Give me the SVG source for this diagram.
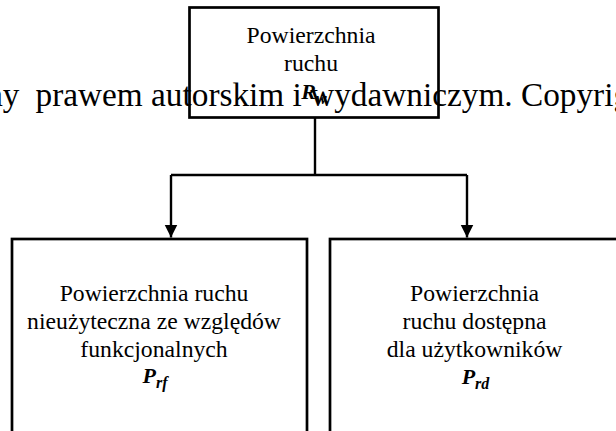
<svg xmlns="http://www.w3.org/2000/svg" width="616" height="431" viewBox="0 0 616 431">
  <style>
    .box { fill: none; stroke: #000; stroke-width: 2.7; }
    .link { fill: none; stroke: #000; stroke-width: 2.4; }
    .lbl { font-size: 23.7px; fill: #000; text-anchor: middle; }
    .sym { font-weight: bold; font-style: italic; font-size: 22px; }
    .sub { font-weight: bold; font-style: italic; font-size: 16px; }
    .mark { font-size: 33.3px; fill: #000; }
  </style>
  <defs>
    <marker id="arrow" markerUnits="userSpaceOnUse" markerWidth="13" markerHeight="18" refX="13" refY="6.5" orient="auto">
      <path d="M0,0 L13,6.5 L0,13 Z" fill="#000"/>
    </marker>
  </defs>

  <rect width="616" height="431" fill="#fff"/>

  <g font-family="Liberation Serif, DejaVu Serif, serif">
    <!-- copyright notice running across the page -->
    <g id="copyright">
      <text class="mark" x="19.5" y="105.5" text-anchor="end">ny</text>
      <text class="mark" x="35.5" y="105.5">prawem autorskim i wydawniczym. Copyright</text>
    </g>

    <g id="connectors">
      <polyline class="link" points="315,117 315,175"/>
      <polyline class="link" points="171,175 467,175"/>
      <line class="link" x1="171" y1="175" x2="171" y2="237.5" marker-end="url(#arrow)"/>
      <line class="link" x1="467" y1="175" x2="467" y2="237.5" marker-end="url(#arrow)"/>
    </g>

    <g id="node-total">
      <rect class="box" x="189.5" y="7.5" width="249" height="110"/>
      <text class="lbl">
        <tspan x="314" y="43">Powierzchnia</tspan>
        <tspan x="314" y="71">ruchu</tspan>
        <tspan x="314" y="99" class="sym">R<tspan class="sub" dy="5">w</tspan></tspan>
      </text>
    </g>

    <g id="node-functional">
      <rect class="box" x="12" y="239" width="295" height="210"/>
      <text class="lbl">
        <tspan x="157" y="301">Powierzchnia ruchu</tspan>
        <tspan x="157" y="329">nieużyteczna ze względów</tspan>
        <tspan x="157" y="357">funkcjonalnych</tspan>
        <tspan x="155" y="383" class="sym">P<tspan class="sub" dy="5">rf</tspan></tspan>
      </text>
    </g>

    <g id="node-available">
      <rect class="box" x="330" y="239" width="300" height="210"/>
      <text class="lbl">
        <tspan x="477.5" y="301">Powierzchnia</tspan>
        <tspan x="477.5" y="329">ruchu dostępna</tspan>
        <tspan x="477.5" y="357">dla użytkowników</tspan>
        <tspan x="475.5" y="384" class="sym">P<tspan class="sub" dy="5">rd</tspan></tspan>
      </text>
    </g>
  </g>
</svg>
